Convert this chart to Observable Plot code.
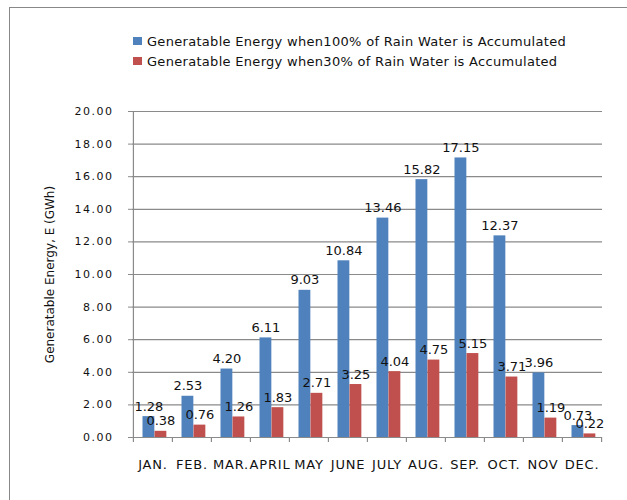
<!DOCTYPE html>
<html>
<head>
<meta charset="utf-8">
<script src="https://cdn.jsdelivr.net/npm/d3@7"></script>
<script src="https://cdn.jsdelivr.net/npm/@observablehq/plot@0.6"></script>
<style>
  html, body { margin: 0; padding: 0; background: #fff; overflow: hidden; }
  #wrap { position: relative; width: 627px; height: 500px; overflow: hidden; font-family: "DejaVu Sans", sans-serif; background: #fff; }
  #frame { position: absolute; left: 9px; top: 7px; width: 700px; height: 600px; border-top: 1.5px solid #888; border-left: 1.5px solid #888; }
  #legend { position: absolute; left: 0; top: 0; width: 627px; height: 80px; }
  .lg { position: absolute; left: 133px; height: 16px; display: flex; align-items: center; font-size: 13px; letter-spacing: 0.3px; color: #111; white-space: nowrap; }
  .sw { width: 9px; height: 8px; margin-right: 5px; }
  #chart { position: absolute; left: 0; top: 80px; }
  g[aria-label="y-axis tick label"] text { letter-spacing: 1.5px; }
  g[aria-label="x-axis tick label"] text { letter-spacing: 0.8px; }
</style>
</head>
<body>
<div id="wrap">
  <div id="frame"></div>
  <div id="legend"></div>
  <div id="chart"></div>
</div>
<script>
const months = ["JAN.", "FEB.", "MAR.", "APRIL", "MAY", "JUNE", "JULY", "AUG.", "SEP.", "OCT.", "NOV", "DEC."];
const energy100 = [1.28, 2.53, 4.20, 6.11, 9.03, 10.84, 13.46, 15.82, 17.15, 12.37, 3.96, 0.73];
const energy30 = [0.38, 0.76, 1.26, 1.83, 2.71, 3.25, 4.04, 4.75, 5.15, 3.71, 1.19, 0.22];
const yTicks = [0, 2, 4, 6, 8, 10, 12, 14, 16, 18, 20];
const seriesNames = [
  "Generatable Energy when100% of Rain Water is Accumulated",
  "Generatable Energy when30% of Rain Water is Accumulated"
];
const colors = ["#4F81BD", "#C0504D"];
const yLabel = "Generatable Energy, E (GWh)";

// legend
const legend = document.getElementById("legend");
seriesNames.forEach((name, i) => {
  const row = document.createElement("div");
  row.className = "lg";
  row.style.top = (33 + i * 20) + "px";
  const sw = document.createElement("div");
  sw.className = "sw";
  sw.style.background = colors[i];
  row.appendChild(sw);
  const t = document.createElement("span");
  t.textContent = name;
  row.appendChild(t);
  legend.appendChild(row);
});

const rows = months.map((m, i) => ({month: m, full: energy100[i], part: energy30[i]}));

const W = 627, H = 420, mL = 132, mR = 25, mT = 31, mB = 63;
const bw = (W - mL - mR) / months.length;
const blueL = 9.5, blueR = bw - 9.5 - 12;
const redL = 21.5, redR = bw - 21.5 - 12;
const grid = "#8a8a8a";

const chart = Plot.plot({
  width: W,
  height: H,
  marginLeft: mL,
  marginRight: mR,
  marginTop: mT,
  marginBottom: mB,
  style: {fontFamily: "DejaVu Sans, sans-serif", fontSize: "11px", color: "#111", background: "transparent"},
  x: {domain: months, padding: 0, axis: null},
  y: {domain: [0, 20], axis: null},
  marks: [
    Plot.ruleY(yTicks, {y: d => d, stroke: grid, strokeWidth: 1.2}),
    Plot.ruleX([months[0]], {x: d => d, dx: -bw / 2, y1: 0, y2: 20, stroke: grid, strokeWidth: 1.2}),
    Plot.ruleX(months, {x: d => d, dx: -bw / 2, y1: 0, y2: 0, insetBottom: -5, stroke: grid, strokeWidth: 1.2}),
    Plot.ruleX([months[months.length - 1]], {x: d => d, dx: bw / 2, y1: 0, y2: 0, insetBottom: -5, stroke: grid, strokeWidth: 1.2}),
    Plot.barY(rows, {x: "month", y: "full", fill: colors[0], insetLeft: blueL, insetRight: blueR}),
    Plot.barY(rows, {x: "month", y: "part", fill: colors[1], insetLeft: redL, insetRight: redR}),
    Plot.text(rows, {x: "month", y: "full", text: d => d.full.toFixed(2), dx: blueL + 6 - bw / 2, dy: -6, lineAnchor: "bottom", fontSize: 13, fill: "#111"}),
    Plot.text(rows, {x: "month", y: "part", text: d => d.part.toFixed(2), dx: redL + 6 - bw / 2, dy: -6, lineAnchor: "bottom", fontSize: 13, fill: "#111"}),
    Plot.axisY({ticks: yTicks, tickFormat: d => d.toFixed(2), tickSize: 4, tickPadding: 15, stroke: grid, label: null, fontSize: 11}),
    Plot.axisX({tickSize: 0, tickPadding: 22, label: null, fontSize: 13}),
    Plot.text([yLabel], {frameAnchor: "left", text: d => d, rotate: -90, textAnchor: "middle", dx: -82, fontSize: 12, fill: "#111"})
  ]
});
document.getElementById("chart").appendChild(chart);
</script>
</body>
</html>
